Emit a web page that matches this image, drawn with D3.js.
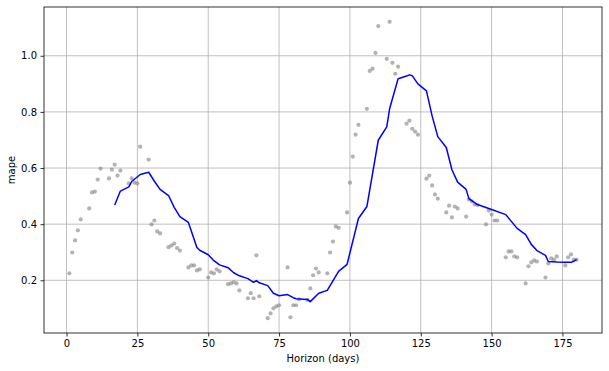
<!DOCTYPE html>
<html>
<head>
<meta charset="utf-8">
<script src="https://cdn.jsdelivr.net/npm/d3@7"></script>
<style>
  body { margin: 0; background: #fff; }
  text { font-family: "DejaVu Sans", sans-serif; }
</style>
</head>
<body>
<div id="chart"></div>
<script>
// points: one mape value per horizon (days)
var horizon = [1,2,3,4,5,8,9,10,11,12,15,16,17,18,19,22,23,24,25,26,29,30,31,32,33,36,37,38,39,40,
  43,44,45,46,47,50,51,52,53,54,57,58,59,60,61,64,65,66,67,68,71,72,73,74,75,78,79,80,81,82,
  85,86,87,88,89,92,93,94,95,96,99,100,101,102,103,106,107,108,109,110,113,114,115,116,117,
  120,121,122,123,124,127,128,129,130,131,134,135,136,137,138,141,142,143,144,145,
  148,149,150,151,152,155,156,157,158,159,162,163,164,165,166,169,170,171,172,173,176,177,178,179,180];
var mape = [0.225,0.299,0.342,0.378,0.417,0.456,0.513,0.516,0.559,0.598,0.563,0.594,0.612,0.573,0.591,
  0.545,0.563,0.548,0.545,0.676,0.630,0.399,0.413,0.374,0.367,0.318,0.324,0.331,0.315,0.306,
  0.246,0.253,0.253,0.235,0.239,0.210,0.228,0.225,0.239,0.232,0.186,0.189,0.193,0.189,0.164,
  0.136,0.154,0.136,0.289,0.143,0.065,0.082,0.100,0.107,0.111,0.246,0.068,0.111,0.111,0.132,
  0.130,0.171,0.218,0.242,0.228,0.225,0.299,0.338,0.392,0.387,0.442,0.548,0.641,0.719,0.754,
  0.811,0.946,0.954,1.010,1.106,0.989,1.121,0.975,0.936,0.961,0.758,0.769,0.740,0.730,0.719,
  0.562,0.573,0.538,0.506,0.491,0.442,0.466,0.424,0.463,0.456,0.427,0.488,0.481,0.470,0.468,
  0.399,0.449,0.434,0.413,0.413,0.282,0.303,0.303,0.285,0.282,0.189,0.250,0.264,0.271,0.267,
  0.210,0.260,0.278,0.274,0.285,0.253,0.282,0.292,0.274,0.274];

// rolling mean line (blue)
var lineH = [17,19,22,23,26,29,31,33,36,38,40,43,46,47,50,52,54,57,59,61,64,66,67,68,71,73,75,78,80,81,
  85,86,89,92,94,96,99,103,106,110,113,114,117,120,121,122,123,124,127,129,131,134,136,138,141,142,
  144,145,150,155,159,162,164,166,169,170,173,176,178,179,180];
var lineV = [0.468,0.518,0.533,0.552,0.577,0.585,0.553,0.524,0.502,0.460,0.427,0.406,0.317,0.307,0.291,
  0.270,0.255,0.245,0.227,0.216,0.206,0.193,0.199,0.191,0.181,0.154,0.145,0.149,0.138,0.134,
  0.132,0.124,0.154,0.164,0.198,0.232,0.257,0.420,0.463,0.699,0.747,0.811,0.918,0.928,0.932,
  0.929,0.914,0.900,0.875,0.786,0.712,0.673,0.594,0.550,0.524,0.491,0.477,0.470,0.452,0.434,
  0.385,0.363,0.328,0.306,0.289,0.267,0.265,0.264,0.264,0.268,0.274];

var xTicks = [0,25,50,75,100,125,150,175];
var yTicks = [0.2,0.4,0.6,0.8,1.0];

// marges
var margin = { top: 7, right: 7, bottom: 38, left: 44 },
    width = 609 - margin.left - margin.right,
    height = 371 - margin.top - margin.bottom;

var svg = d3.select("#chart")
    .append("svg")
    .attr("width", 609)
    .attr("height", 371)
    .append("g")
    .attr("transform", "translate(" + margin.left + "," + margin.top + ")");

// matplotlib style 5% margins
var xMin = d3.min(horizon), xMax = d3.max(horizon);
var xPad = (xMax - xMin) * 0.05;
var x = d3.scaleLinear()
    .domain([xMin - xPad, xMax + xPad])
    .range([0, width]);

var yMin = d3.min(mape), yMax = d3.max(mape);
var yPad = (yMax - yMin) * 0.05;
var y = d3.scaleLinear()
    .domain([yMin - yPad, yMax + yPad])
    .range([height, 0]);

// grille
svg.append("g").selectAll("line").data(xTicks).join("line")
    .attr("x1", d => x(d)).attr("x2", d => x(d))
    .attr("y1", 0).attr("y2", height)
    .attr("stroke", "#b0b0b0").attr("stroke-width", 0.8);
svg.append("g").selectAll("line").data(yTicks).join("line")
    .attr("x1", 0).attr("x2", width)
    .attr("y1", d => y(d)).attr("y2", d => y(d))
    .attr("stroke", "#b0b0b0").attr("stroke-width", 0.8);

// points
svg.append("g").selectAll("circle")
    .data(horizon)
    .join("circle")
    .attr("cx", (d, i) => x(d))
    .attr("cy", (d, i) => y(mape[i]))
    .attr("r", 2.1)
    .attr("fill", "gray")
    .attr("fill-opacity", 0.6);

// ligne
var line = d3.line()
    .x((d, i) => x(d))
    .y((d, i) => y(lineV[i]));
svg.append("path")
    .datum(lineH)
    .attr("d", line)
    .attr("fill", "none")
    .attr("stroke", "#0000ff")
    .attr("stroke-width", 1.5)
    .attr("stroke-linejoin", "round");

// axes
var xAxis = svg.append("g")
    .attr("transform", "translate(0," + height + ")")
    .call(d3.axisBottom(x).tickValues(xTicks).tickSize(3.5).tickPadding(3.5).tickFormat(d3.format("d")));
var yAxis = svg.append("g")
    .call(d3.axisLeft(y).tickValues(yTicks).tickSize(3.5).tickPadding(3.5).tickFormat(d3.format(".1f")));

[xAxis, yAxis].forEach(a => {
    a.select(".domain").remove();
    a.selectAll("text").attr("font-size", 10).attr("fill", "#000").attr("font-family", "DejaVu Sans");
    a.selectAll("line").attr("stroke", "#000").attr("stroke-width", 0.8);
});

// cadre
svg.append("rect")
    .attr("x", 0).attr("y", 0)
    .attr("width", width).attr("height", height)
    .attr("fill", "none")
    .attr("stroke", "#000")
    .attr("stroke-width", 0.8);

// labels
svg.append("text")
    .attr("x", width / 2)
    .attr("y", height + 29)
    .attr("text-anchor", "middle")
    .attr("font-size", 10)
    .text("Horizon (days)");

svg.append("text")
    .attr("transform", "translate(" + (-29) + "," + (height / 2) + ") rotate(-90)")
    .attr("text-anchor", "middle")
    .attr("font-size", 10)
    .text("mape");
</script>
</body>
</html>
